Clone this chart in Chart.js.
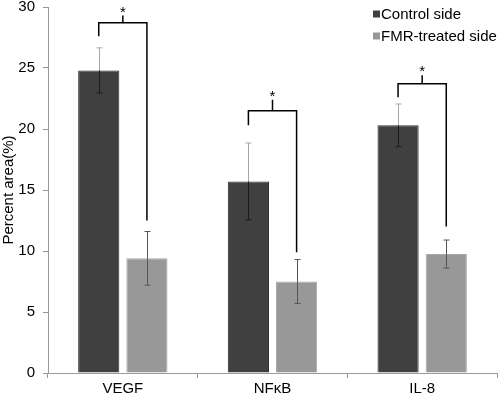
<!DOCTYPE html>
<html><head><meta charset="utf-8">
<script src="https://cdn.jsdelivr.net/npm/chart.js@4/dist/chart.umd.min.js"></script>
<style>html,body{margin:0;padding:0;background:#fff;}</style>
</head><body>
<canvas id="c" width="498" height="397"></canvas>
<script>
const categories = ['VEGF', 'NFκB', 'IL-8'];
const seriesNames = ['Control side', 'FMR-treated side'];
const controlValues = [24.8, 15.7, 20.3];
const treatedValues = [9.4, 7.5, 9.75];
const controlErrors = [1.85, 3.15, 1.75];
const treatedErrors = [2.2, 1.8, 1.15];
const yTicks = [0, 5, 10, 15, 20, 25, 30];
const bracketTop = [28.7, 21.5, 23.7];
const bracketLeftEnd = [27.6, 20.3, 22.6];
const bracketRightEnd = [12.5, 9.9, 12.0];
const bracketTick = [29.3, 22.4, 24.4];
const sigLabels = ['*', '*', '*'];

const FONT = "Arial, 'Liberation Sans', sans-serif";
const colors = ['#404040', '#989898'];
const borders = ['#2e2e2e', '#a8a8a8'];

const errorPlugin = {
  id: 'errs',
  afterDatasetsDraw(chart) {
    const ctx = chart.ctx;
    const y = chart.scales.y;
    const errs = [controlErrors, treatedErrors];
    const vals = [controlValues, treatedValues];
    ctx.save();
    ctx.lineWidth = 1;
    for (let d = 0; d < 2; d++) {
      const meta = chart.getDatasetMeta(d);
      meta.data.forEach((bar, i) => {
        const x = Math.round(bar.x) + 0.5;
        const v = vals[d][i], e = errs[d][i];
        const yt = y.getPixelForValue(v + e), yv = y.getPixelForValue(v), yb = y.getPixelForValue(v - e);
        const upper = d === 0 ? '#a6a6a6' : '#555555';
        const lower = d === 0 ? '#1c1c1c' : '#555555';
        ctx.strokeStyle = upper;
        ctx.beginPath(); ctx.moveTo(x, yt); ctx.lineTo(x, yv); ctx.moveTo(x - 3, yt); ctx.lineTo(x + 3, yt); ctx.stroke();
        ctx.strokeStyle = lower;
        ctx.beginPath(); ctx.moveTo(x, yv); ctx.lineTo(x, yb); ctx.moveTo(x - 3, yb); ctx.lineTo(x + 3, yb); ctx.stroke();
      });
    }
    // significance brackets
    ctx.strokeStyle = '#000';
    ctx.lineWidth = 1.5;
    ctx.fillStyle = '#000';
    ctx.font = '15px ' + FONT;
    ctx.textAlign = 'center';
    ctx.textBaseline = 'alphabetic';
    const m0 = chart.getDatasetMeta(0), m1 = chart.getDatasetMeta(1);
    for (let i = 0; i < categories.length; i++) {
      const xl = m0.data[i].x, xr = m1.data[i].x, xc = (xl + xr) / 2;
      const yTop = y.getPixelForValue(bracketTop[i]);
      ctx.beginPath();
      ctx.moveTo(xl, y.getPixelForValue(bracketLeftEnd[i]));
      ctx.lineTo(xl, yTop);
      ctx.lineTo(xr, yTop);
      ctx.lineTo(xr, y.getPixelForValue(bracketRightEnd[i]));
      ctx.moveTo(xc, yTop);
      const yTk = y.getPixelForValue(bracketTick[i]);
      ctx.lineTo(xc, yTk);
      ctx.stroke();
      ctx.fillText(sigLabels[i], xc, yTk + 1);
    }
    ctx.restore();
  }
};

const legendPlugin = {
  id: 'customLegend',
  afterDraw(chart) {
    const ctx = chart.ctx;
    ctx.save();
    ctx.font = '15px ' + FONT;
    ctx.textAlign = 'left';
    ctx.textBaseline = 'middle';
    chart.data.datasets.forEach((ds, i) => {
      const cy = 14 + i * 22;
      ctx.fillStyle = ds.backgroundColor;
      ctx.fillRect(373, cy - 3.5, 7, 7);
      ctx.fillStyle = '#000';
      ctx.fillText(ds.label, 381, cy + 0.5);
    });
    ctx.restore();
  }
};

new Chart(document.getElementById('c'), {
  type: 'bar',
  data: {
    labels: categories,
    datasets: [
      { label: seriesNames[0], data: controlValues, backgroundColor: colors[0], borderColor: borders[0], borderWidth: 1 },
      { label: seriesNames[1], data: treatedValues, backgroundColor: colors[1], borderColor: borders[1], borderWidth: 1 }
    ]
  },
  options: {
    responsive: false,
    devicePixelRatio: 1,
    animation: false,
    layout: { padding: { top: 7, right: 1, left: 0, bottom: 0 } },
    datasets: { bar: { categoryPercentage: 0.644, barPercentage: 0.854 } },
    plugins: { legend: { display: false }, tooltip: { enabled: false } },
    scales: {
      x: {
        offset: true,
        grid: { display: true, offset: true, drawOnChartArea: false, drawTicks: true, tickLength: 5, color: '#9a9a9a' },
        border: { display: true, color: '#9a9a9a', width: 1 },
        ticks: { color: '#000', font: { family: FONT, size: 15 }, padding: 2, maxRotation: 0 },
        afterFit(s) { s.height = 24; s.paddingLeft = 0; s.paddingRight = 0; }
      },
      y: {
        min: 0, max: 30,
        afterBuildTicks(s) { s.ticks = yTicks.map(v => ({ value: v })); },
        grid: { display: true, drawOnChartArea: false, drawTicks: true, tickLength: 5, color: '#9a9a9a' },
        border: { display: true, color: '#9a9a9a', width: 1 },
        ticks: { color: '#000', font: { family: FONT, size: 15 }, padding: 8 },
        title: { display: true, text: 'Percent area(%)', color: '#000', font: { family: FONT, size: 15 }, padding: { top: 0, bottom: 0 } },
        afterFit(s) { s.width = 48; s.paddingTop = 0; s.paddingBottom = 0; }
      }
    }
  },
  plugins: [errorPlugin, legendPlugin]
});
</script>
</body></html>
